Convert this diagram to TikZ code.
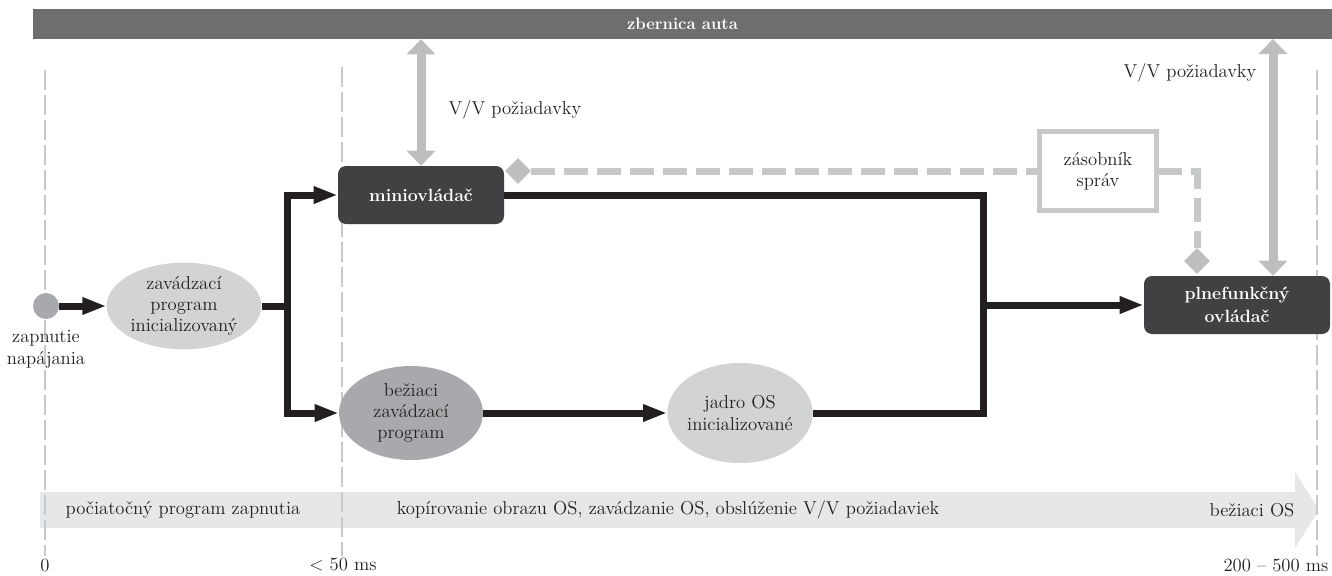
\documentclass[tikz,border=0pt]{standalone}
\usepackage{fontspec}
\usetikzlibrary{arrows.meta,shapes.geometric}
\definecolor{busgray}{HTML}{6D6E70}
\definecolor{darkbox}{HTML}{414042}
\definecolor{lightell}{HTML}{D1D3D4}
\definecolor{midell}{HTML}{A7A9AC}
\definecolor{arrgray}{HTML}{BCBEC0}
\definecolor{dashgray}{HTML}{C7C8CA}
\definecolor{bandgray}{HTML}{E6E7E8}
\definecolor{vline}{HTML}{C8C9CB}
\definecolor{txt}{HTML}{231F20}
\begin{document}
\begin{tikzpicture}[x=0.75pt,y=-0.75pt,
  every node/.style={font=\fontsize{14}{16}\selectfont, text=txt},
  lbl/.style={align=center, font=\fontsize{14}{16}\selectfont, text=txt},
  ell/.style={ellipse, inner sep=0pt, draw=none},
  darkbox/.style={rectangle, rounded corners=6pt, fill=darkbox, inner sep=0pt,
     minimum width=124.5pt, minimum height=43.5pt, align=center,
     text=white, font=\bfseries\fontsize{13.3}{17.5}\selectfont},
  blk/.style={line width=5.25pt, draw=txt},
  blkarrow/.style={blk, -{Triangle[length=18pt,width=12pt]}},
  grayarrow/.style={line width=6.75pt, draw=arrgray,
     {Triangle[length=11.25pt,width=21pt]}-{Triangle[length=11.25pt,width=21pt]}},
  dashline/.style={line width=5.25pt, draw=dashgray, dash pattern=on 18pt off 6.75pt},
  dmd/.style={diamond, fill=arrgray, inner sep=0pt, minimum width=19.5pt, minimum height=19.5pt},
  timeline/.style={draw=vline, line width=0.9pt, dash pattern=on 15pt off 3.75pt}
]
\useasboundingbox (0,0) rectangle (1332,575);

% bus
\node[rectangle, fill=busgray, inner sep=0pt, minimum width=974.25pt, minimum height=22.5pt,
      text=white, font=\bfseries\fontsize{12.5}{15}\selectfont] (bus) at (682.5,24) {zbernica auta};

% timeline band
\fill[bandgray] (40,492) -- (1295,492) -- (1295,472) -- (1319,510) -- (1295,548) -- (1295,528) -- (40,528) -- cycle;

% vertical dashed time lines
\draw[timeline] (45,70) -- (45,556);
\draw[timeline] (342,67) -- (342,556);
\draw[timeline] (1317,70) -- (1317,556);

% band texts
\node (t1) at (183,510) {počiatočný program zapnutia};
\node (t2) at (668,510) {kopírovanie obrazu OS, zavádzanie OS, obslúženie V/V požiadaviek};
\node (t3) at (1252,510) {bežiaci OS};

% axis labels
\node (a0) at (45,565) {0};
\node (a1) at (343,565) {< 50 ms};
\node[anchor=east] (a2) at (1333,565) {200 -- 500 ms};

% nodes
\node[circle, fill=midell, inner sep=0pt, minimum size=19.5pt] (c0) at (46,306) {};
\node[lbl, anchor=north] (c0l) at (46,326) {zapnutie\\napájania};

\node[ell, fill=lightell, minimum width=116pt, minimum height=65pt,
      label={[lbl]center:{zavádzací\\program\\inicializovaný}}] (e1) at (184,306) {};
\node[ell, fill=midell, minimum width=108pt, minimum height=70.5pt,
      label={[lbl]center:{bežiaci\\zavádzací\\program}}] (e2) at (411,413) {};
\node[ell, fill=lightell, minimum width=109pt, minimum height=75pt,
      label={[lbl]center:{jadro OS\\inicializované}}] (e3) at (740,413) {};

\node[darkbox] (mini) at (421,195) {miniovládač};
\node[darkbox, minimum width=139.5pt] (plne) at (1237,305) {plnefunkčný\\ovládač};

% dashed message path
\node[dmd] (d1) at (518,171) {};
\node[dmd] (d2) at (1197,261) {};
\coordinate (dc) at (1197,171);
\draw[dashline] (d1.east) -- (dc) -- (d2.north);

% message box
\node[rectangle, draw=dashgray, line width=3.75pt, fill=white, inner sep=0pt,
      minimum width=87.75pt, minimum height=59.25pt, align=center] (box) at (1098,171) {zásobník\\správ};

% gray I/O arrows
\draw[grayarrow] (mini.north |- bus.south) -- (mini.north);
\coordinate (p1) at (1273,39);
\draw[grayarrow] (p1) -- (p1 |- plne.north);
\node[anchor=west] (io1) at (444,110) {V/V požiadavky};
\node (io2) at (1190,73) {V/V požiadavky};

% black flow
\coordinate (j1) at (287,306);
\coordinate (j2) at (983,305);
\draw[blkarrow] (c0.east) -- (e1.west);
\draw[blk] (e1.east) -- (j1);
\draw[blkarrow] (j1) |- (mini.west);
\draw[blkarrow] (j1) |- (e2.west);
\draw[blkarrow] (e2.east) -- (e3.west);
\draw[blk] (mini.east) -| (j2) |- (e3.east);
\draw[blkarrow] (j2) -- (plne.west);
\end{tikzpicture}
\end{document}
